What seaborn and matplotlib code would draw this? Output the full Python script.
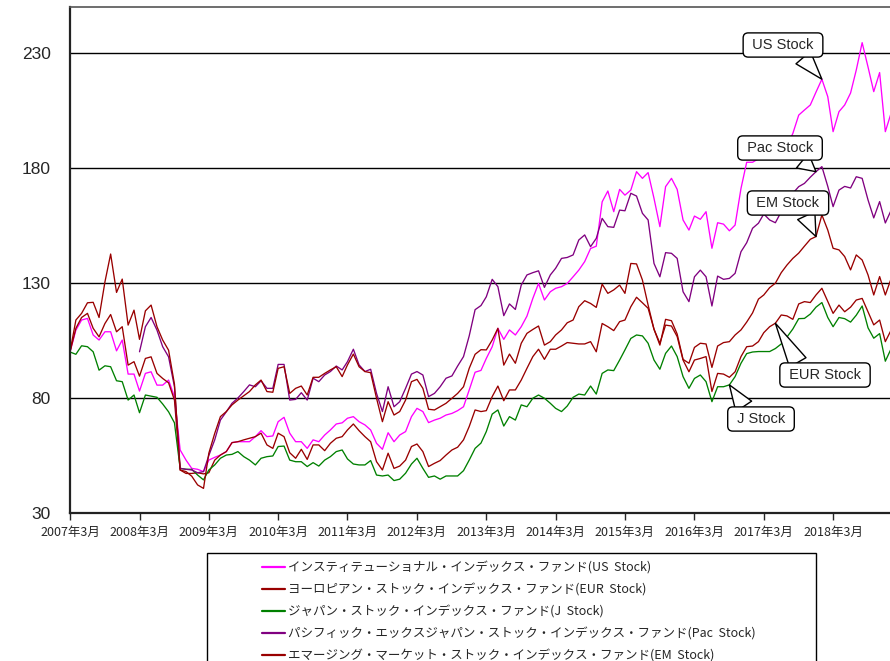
import pandas as pd
import matplotlib
matplotlib.use("Agg")
import matplotlib.pyplot as plt
from matplotlib.patches import Rectangle
from matplotlib.font_manager import FontProperties
import seaborn as sns

# monthly index values, 2007-03 .. 2019-01
months = pd.date_range("2007-03-01", periods=143, freq="MS")

us_stock = [
    100, 109.5, 113.9, 114.6, 107.4, 105.2, 108.8, 108.8, 100.5, 105.2, 90.4, 90.4,
    83, 90.7, 91.4, 85.6, 85.6, 87.8, 80.5, 57.4, 53, 49.4, 49, 48,
    53, 54.2, 55.2, 56.7, 60.6, 61, 61, 61, 63.2, 65.8, 63.2, 63.5,
    69.7, 71.6, 64.7, 61, 61, 58.1, 61.8, 61, 63.9, 66.1, 68.7, 69.2,
    71.2, 71.9, 69.7, 68.3, 66.1, 60.3, 57.7, 64.9, 61, 63.9, 65.4, 71.9,
    75.5, 74.1, 69.3, 70.4, 71.2, 72.6, 73.3, 74.5, 76.2, 83.5, 91.2, 92,
    97.2, 102.3, 110.3, 105.5, 109.6, 107.4, 111, 115.6, 123.3, 129.8, 122.6, 126.2,
    127.7, 128.4, 129.8, 132.7, 135.6, 139.3, 145, 146, 165.3, 170, 161, 170.7,
    168.2, 170.4, 178.4, 175.5, 178, 166.8, 154.5, 171.9, 175.5, 170.7, 157.4, 153,
    159.1, 157.7, 161, 145.1, 156.2, 155.6, 152.7, 155.2, 171.1, 182.5, 182.5, 184,
    186, 185.5, 188, 190, 189.5, 195, 203, 205.2, 207.4, 213, 218.6, 211,
    195.8, 204.5, 207.4, 212.6, 222.6, 234.5, 223.9, 213.2, 221.5, 195.8, 204,
]
eur_stock = [
    100, 110.3, 115, 116.8, 110.3, 106.6, 112.4, 116.3, 108.8, 111, 94.3, 95.8,
    89.5, 97.2, 97.9, 90.7, 88.5, 86.6, 79.1, 48.7, 47.2, 47.2, 47.5, 47,
    47.5, 53, 55.2, 56.7, 60.6, 61, 61.8, 62.5, 63.2, 64.7, 59.6, 58.1,
    64.7, 63.2, 56.2, 53.8, 57.7, 53.3, 59.6, 59.6, 57.1, 60.3, 62.5, 63.2,
    66.1, 68.7, 65.8, 63.2, 61, 52.3, 48.7, 56, 49.4, 50.4, 53, 58.9,
    60, 56.7, 50.2, 51.6, 52.8, 55.2, 57.4, 58.6, 61.8, 67.6, 74.8, 74.1,
    74.5, 80.6, 85.2, 78.8, 83.5, 83.5, 87.8, 92.9, 98, 101.2, 96.8, 101.2,
    101.2, 102.6, 104.1, 103.8, 103.5, 103.5, 104.5, 100.1, 112.4, 111, 109.3, 113.2,
    113.9, 119.7, 123.8, 121.4, 119, 109.9, 103.8, 111.7, 111.3, 106.7, 96.5, 91.4,
    96.5, 97.2, 98, 82.8, 90.7, 90.4, 89, 91.4, 98, 102.3, 102.6, 104.5,
    108.4, 111, 112.5, 116.1, 115.7, 114.2, 120.9, 121.9, 121.5, 124.8, 127.7, 122,
    116.8, 120.4, 117.5, 119.5, 122.6, 123.3, 117.5, 111.8, 113.9, 104.5, 109.6,
]
j_stock = [
    100, 99, 102.7, 102.3, 100.1, 92.1, 94, 93.6, 87.5, 87.1, 79.1, 81.3,
    73.6, 81.3, 80.8, 80.3, 77.4, 74, 69.2, 49.4, 49, 49, 46.5, 44.4,
    48.7, 50.9, 53.8, 55.2, 55.5, 56.7, 54.5, 53, 50.9, 53.8, 54.5, 54.8,
    58.9, 59.1, 53, 52.3, 52.3, 50.2, 51.9, 50.4, 53, 54.5, 56.7, 57.4,
    53.5, 51.3, 50.9, 50.9, 52.8, 46.5, 46.1, 46.5, 44.1, 44.7, 47.3, 51.3,
    53.8, 49.4, 45.5, 46.1, 44.7, 46.1, 46.1, 46.1, 48.4, 53, 58.1, 60.4,
    65.4, 73, 74.8, 67.8, 71.9, 70.4, 77, 76.2, 79.9, 81.3, 79.9, 77.7,
    75.5, 74.1, 76.5, 80.3, 81.7, 81.3, 85.2, 81.7, 90.7, 92.2, 91.9, 96.5,
    100.9, 105.9, 107.4, 107, 103.8, 96.5, 92.5, 99.4, 102.6, 98, 89.3, 84.2,
    88.5, 90, 87.1, 78.4, 84.9, 84.9, 85.7, 89.3, 95.1, 99.3, 100, 100.2,
    100.2, 100.2, 101.5, 103.5, 106.5, 110, 114.5, 114.6, 116.5, 119.5, 121.5, 115,
    111, 115, 114.5, 113, 116, 120, 110.5, 106, 108, 96, 101.5,
]
pac_stock = [None] * 12 + [
    100.1, 111, 115, 109.5, 102.3, 97.9, 84.9, 49.4, 49, 48.7, 47.5, 48,
    55, 61.8, 70.4, 74, 77.7, 80, 82.8, 85.7, 84.9, 87.5, 84.2, 84.2,
    94.6, 94.6, 79.1, 79.4, 82.3, 79.1, 88.6, 87.1, 90, 91.5, 93.9, 92.2,
    95.8, 101.2, 94.4, 91.5, 92.5, 82, 74.1, 84.9, 76.2, 78.4, 84.2, 90.4,
    91.5, 90, 80.6, 82, 84.9, 88.6, 89.6, 93.9, 98, 107, 118.4, 120.2,
    124, 131.6, 128.4, 115.8, 120.9, 118.5, 129.1, 133.5, 134.5, 135.3, 128.1, 133.5,
    136.4, 140.7, 141.1, 142.2, 148.7, 150.9, 145.8, 149.4, 158.1, 154.5, 154.2, 161.7,
    161.4, 169, 167.8, 160.3, 157.4, 138.5, 132.7, 143.2, 142.9, 140.7, 126.2, 121.9,
    132.7, 135.6, 132.7, 120, 133, 131.6, 132, 134.2, 143.6, 147.5, 153.8, 156,
    160, 157.4, 156.2, 161, 166.1, 169, 171.9, 173.3, 176, 178.4, 180.6, 172,
    163.2, 170.4, 172, 171.3, 176.2, 175.5, 166.1, 158.3, 165.4, 156.1, 161.7,
]
em_stock = [
    100, 113.9, 116.8, 121.4, 121.6, 115, 130.5, 142.6, 125.9, 131.7, 111.7, 118.2,
    105.5, 117.9, 120.4, 111, 105.2, 100.8, 86, 48.7, 48, 46, 42.2, 40.7,
    56, 64.6, 71.9, 74.1, 77, 79.1, 81, 82.8, 85.7, 87.8, 82.8, 82.5,
    92.9, 93.6, 82, 84.2, 85.2, 81.3, 89, 89, 90.7, 92.2, 93.6, 89.3,
    94.4, 99.1, 93.6, 91.5, 91, 79.9, 69.7, 78.4, 72.6, 74.1, 79.1, 87.1,
    88.1, 84.2, 75.1, 74.8, 76.2, 77.7, 79.9, 82, 84.9, 92.9, 99, 101,
    100.9, 105.2, 110.3, 94.3, 99.1, 95.1, 103.8, 108.1, 109.8, 111.3, 103, 104.5,
    107.4, 109.6, 112.7, 113.9, 119.7, 122.3, 121.1, 119.4, 129.5, 125.5, 127, 129.1,
    125.5, 138.5, 138.3, 131.3, 120.4, 109.9, 103, 114.2, 113.6, 107.8, 96.8, 95.1,
    102, 103.8, 103.5, 93.3, 102.6, 104.1, 104.5, 107.4, 109.6, 113, 117, 123,
    124.8, 128, 129.9, 134.5, 137.8, 140.7, 143, 146, 149, 150.2, 159.6, 153,
    145.1, 144.4, 141.5, 135.7, 142.2, 140, 133.5, 124.8, 132.8, 124.8, 132,
]

series_names = [
    "インスティテューショナル・インデックス・ファンド(US  Stock)",
    "ヨーロピアン・ストック・インデックス・ファンド(EUR  Stock)",
    "ジャパン・ストック・インデックス・ファンド(J  Stock)",
    "パシフィック・エックスジャパン・ストック・インデックス・ファンド(Pac  Stock)",
    "エマージング・マーケット・ストック・インデックス・ファンド(EM  Stock)",
]
series_colors = ["#FF00FF", "#990000", "#008000", "#800080", "#990000"]

tick_years = list(range(2007, 2019))
tick_labels = [f"{y}年3月" for y in tick_years]
y_ticks = [30, 80, 130, 180, 230]

df = pd.DataFrame({"month": months})
for name, vals in zip(series_names, [us_stock, eur_stock, j_stock, pac_stock, em_stock]):
    df[name] = pd.to_numeric(pd.Series(vals), errors="coerce")
long_df = df.melt(id_vars="month", var_name="series", value_name="value").dropna()

sns.set_style("white")
plt.rcParams["font.family"] = ["Liberation Sans", "Noto Sans CJK JP", "DejaVu Sans"]
jp_font = FontProperties(family=["Noto Sans CJK JP", "DejaVu Sans"], size=9)

fig = plt.figure(figsize=(8.9, 6.61), dpi=100)
ax = fig.add_axes([70 / 890, 148 / 661, 844 / 890, 506 / 661])

sns.lineplot(data=long_df, x="month", y="value", hue="series", hue_order=series_names,
             palette=dict(zip(series_names, series_colors)), linewidth=0.95, ax=ax)

ax.set_xlim(months[0], months[0] + pd.DateOffset(months=146))
ax.set_ylim(30, 250)
ax.set_xlabel("")
ax.set_ylabel("")

ax.set_yticks(y_ticks)
ax.set_yticklabels([str(v) for v in y_ticks], fontsize=12.5)
ax.tick_params(axis="y", length=0, pad=14)
ax.yaxis.grid(True, color="black", linewidth=1.0)
ax.set_axisbelow(True)

ax.set_xticks([pd.Timestamp(f"{y}-03-01") for y in tick_years])
ax.set_xticklabels(tick_labels, fontproperties=jp_font)
ax.tick_params(axis="x", direction="out", length=5, width=1, pad=4, bottom=True)

for side in ["left", "bottom"]:
    ax.spines[side].set_color("#222222")
    ax.spines[side].set_linewidth(1.6)
ax.spines["top"].set_color("#555555")
ax.spines["top"].set_linewidth(1.2)
ax.spines["right"].set_visible(False)

# callout labels
notes = [
    (" US Stock ", months[130], us_stock[130], (783, 616), (0.72, 0.0)),
    (" Pac Stock ", months[129], pac_stock[129], (780, 513), (0.71, 0.0)),
    (" EM Stock ", months[129], em_stock[129], (788, 458), (0.72, 0.0)),
    (" EUR Stock ", months[122], eur_stock[122], (825, 286), (0.2, 1.0)),
    (" J Stock ", months[114], j_stock[114], (761, 242), (0.26, 1.0)),
]
for text, xd, yd, pos, rel in notes:
    ax.annotate(text, xy=(xd, yd), xytext=pos, textcoords="figure pixels",
                ha="center", va="center", fontsize=10.5, family="Liberation Sans",
                bbox=dict(boxstyle="round,pad=0.35,rounding_size=0.35", fc="white", ec="black", lw=1),
                arrowprops=dict(arrowstyle="wedge,tail_width=1.3,shrink_factor=0.5",
                                fc="white", ec="black", lw=1, relpos=rel,
                                shrinkA=0, shrinkB=0),
                zorder=10)

# legend below the chart
leg = ax.get_legend()
handles = leg.legend_handles
labels = [t.get_text() for t in leg.get_texts()]
leg.remove()
for h in handles:
    h.set_linewidth(1.6)

fig.patches.append(Rectangle((207 / 890, -0.05), (816 - 207) / 890, 108 / 661 + 0.05,
                             transform=fig.transFigure, fill=False, ec="black", lw=1))
fig.legend(handles, labels, loc="upper left", bbox_to_anchor=(256 / 890, 1 - 555 / 661),
           frameon=False, borderpad=0, handlelength=1.85, handletextpad=0.25,
           labelspacing=0.72, prop=jp_font)

fig.savefig("out.png", dpi=100)
